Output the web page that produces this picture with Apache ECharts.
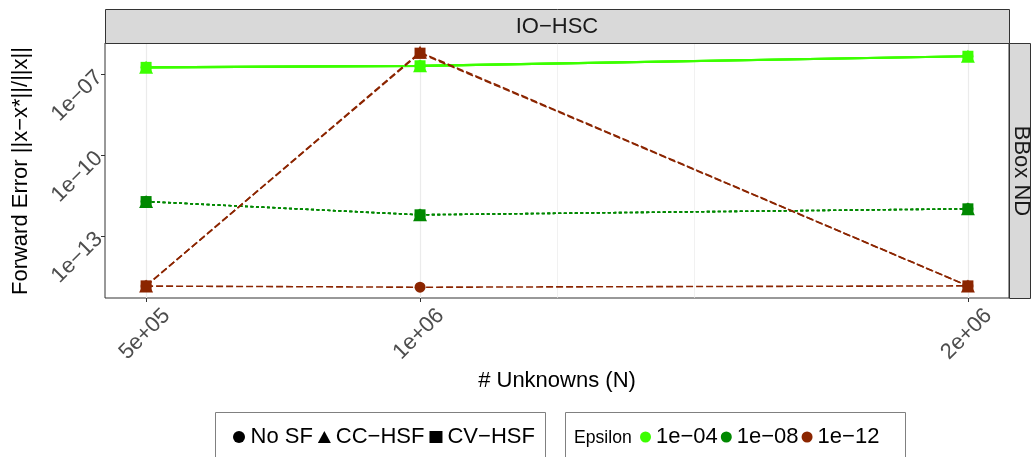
<!DOCTYPE html>
<html>
<head>
<meta charset="utf-8">
<script src="https://cdn.jsdelivr.net/npm/echarts@6/dist/echarts.min.js"></script>
<style>
  html, body { margin: 0; padding: 0; background: #ffffff; }
  #chart { width: 1035px; height: 457px; }
</style>
</head>
<body>
<div id="chart"></div>
<script>
// Problem sizes (# unknowns)
const unknowns = [500000, 1000000, 2000000];
const methods = ['No SF', 'CC−HSF', 'CV−HSF'];
const epsilons = ['1e−04', '1e−08', '1e−12'];

// Forward error ||x - x*|| / ||x|| for each epsilon and method
const err04NoSF = [1.78e-7, 2.04e-7, 4.6e-7];
const err04CC   = [1.78e-7, 2.04e-7, 4.6e-7];
const err04CV   = [1.78e-7, 2.04e-7, 4.6e-7];
const err08NoSF = [1.86e-12, 6.0e-13, 1.0e-12];
const err08CC   = [1.86e-12, 6.0e-13, 1.0e-12];
const err08CV   = [1.86e-12, 6.0e-13, 1.0e-12];
const err12NoSF = [1.36e-15, 1.23e-15, 1.38e-15];
const err12CC   = [1.38e-15, 6.5e-7, 1.38e-15];
const err12CV   = [1.38e-15, 6.0e-7, 1.38e-15];

// Axis breaks and their labels
const xTicks = [500000, 1000000, 2000000];
const xTickLabels = ['5e+05', '1e+06', '2e+06'];
const xMinorGrid = [1250000, 1500000];
const yTicks = [1e-13, 1e-10, 1e-7];
const yTickLabels = ['1e−13', '1e−10', '1e−07'];
const yMinorGrid = [Math.pow(10, -14.5), Math.pow(10, -11.5), Math.pow(10, -8.5)];

const errors = [
  [err04NoSF, err04CC, err04CV],
  [err08NoSF, err08CC, err08CV],
  [err12NoSF, err12CC, err12CV]
];

const FONT = '"Liberation Sans", Arial, Helvetica, sans-serif';
const epsColors = ['#3cff00', '#008800', '#8b2500'];
const epsDash = ['solid', [3, 2.5], [7, 3]];
const epsWidth = [2.2, 1.6, 1.6];
const methodSymbols = ['circle', 'triangle', 'rect'];
const methodSizes = [11, [14, 13], 11];

function labelFor(ticks, labels, v) {
  let best = 0, bestD = Infinity;
  for (let i = 0; i < ticks.length; i++) {
    const d = Math.abs(Math.log10(ticks[i]) - (v > 0 ? Math.log10(v) : v));
    if (d < bestD) { bestD = d; best = i; }
  }
  return labels[best];
}

const series = [];

// background grid lines
series.push({
  type: 'line', name: 'grid', data: [], z: 1, silent: true,
  markLine: {
    z: 1, silent: true, symbol: ['none', 'none'], label: { show: false }, animation: false,
    emphasis: { disabled: true },
    data: [
      ...yTicks.map(v => ({ yAxis: v, lineStyle: { color: '#ebebeb', width: 1.2, type: 'solid' } })),
      ...yMinorGrid.map(v => ({ yAxis: v, lineStyle: { color: '#ebebeb', width: 0.7, type: 'solid' } })),
      ...xTicks.map(v => ({ xAxis: v, lineStyle: { color: '#ebebeb', width: 1.2, type: 'solid' } })),
      ...xMinorGrid.map(v => ({ xAxis: v, lineStyle: { color: '#ebebeb', width: 0.7, type: 'solid' } }))
    ]
  }
});

// connecting lines (drawn under all points)
epsilons.forEach((eps, e) => {
  methods.forEach((m, k) => {
    series.push({
      type: 'line', name: eps + ' ' + m + ' line', z: 2, silent: true,
      showSymbol: false, symbol: 'none',
      data: unknowns.map((x, i) => [x, errors[e][k][i]]),
      lineStyle: { color: epsColors[e], width: epsWidth[e], type: epsDash[e] }
    });
  });
});

// points
epsilons.forEach((eps, e) => {
  methods.forEach((m, k) => {
    series.push({
      type: 'scatter', name: eps + ' ' + m, z: 3, silent: true,
      symbol: methodSymbols[k], symbolSize: methodSizes[k],
      data: unknowns.map((x, i) => [x, errors[e][k][i]]),
      itemStyle: { color: epsColors[e], opacity: 1 }
    });
  });
});

// legend entries
methods.forEach((m) => {
  series.push({ type: 'scatter', name: m, data: [], itemStyle: { color: '#000000', opacity: 1 } });
});
epsilons.forEach((eps, e) => {
  series.push({ type: 'scatter', name: eps, data: [], itemStyle: { color: epsColors[e], opacity: 1 } });
});

const option = {
  animation: false,
  backgroundColor: '#ffffff',
  textStyle: { fontFamily: FONT },
  grid: {
    left: 105, top: 43, width: 904, height: 255,
    show: true, borderColor: '#333333', borderWidth: 1, backgroundColor: '#ffffff',
    containLabel: false
  },
  xAxis: {
    type: 'value', min: 425000, max: 2075000,
    axisLine: { show: false },
    axisTick: { show: true, length: 4, lineStyle: { color: '#333333', width: 1 }, customValues: xTicks },
    axisLabel: {
      show: true, rotate: 45, fontSize: 22, color: '#4d4d4d', margin: 5, fontFamily: FONT,
      verticalAlign: 'top', padding: [10, -8, 0, 0],
      customValues: xTicks,
      formatter: v => labelFor(xTicks, xTickLabels, v)
    },
    splitLine: { show: false }
  },
  yAxis: {
    type: 'log', logBase: 10,
    min: Math.pow(10, -15.31), max: Math.pow(10, -5.845),
    axisLine: { show: false },
    axisTick: { show: true, length: 4, lineStyle: { color: '#333333', width: 1 }, customValues: yTicks },
    axisLabel: {
      show: true, rotate: 45, fontSize: 22, color: '#4d4d4d', margin: 6, fontFamily: FONT,
      customValues: yTicks,
      formatter: v => labelFor(yTicks, yTickLabels, v)
    },
    splitLine: { show: false },
    minorTick: { show: false },
    minorSplitLine: { show: false }
  },
  legend: [
    {
      left: 233, top: 426, padding: 0, itemGap: 5, itemWidth: 13, itemHeight: 12,
      selectedMode: false,
      textStyle: { fontSize: 22, color: '#000000', fontFamily: FONT },
      data: [
        { name: methods[0], icon: 'circle' },
        { name: methods[1], icon: 'triangle' },
        { name: methods[2], icon: 'rect' }
      ]
    },
    {
      left: 640, top: 426, padding: 0, itemGap: 3, itemWidth: 11, itemHeight: 11,
      selectedMode: false,
      textStyle: { fontSize: 22, color: '#000000', fontFamily: FONT },
      data: epsilons.map(n => ({ name: n, icon: 'circle' }))
    }
  ],
  graphic: [
    // facet strip (top)
    { type: 'rect', shape: { x: 105.5, y: 9.5, width: 904, height: 34 }, style: { fill: '#d9d9d9', stroke: '#333333', lineWidth: 1 }, z: 10 },
    { type: 'text', x: 557, y: 27, z: 11, style: { text: 'IO−HSC', fontSize: 22, fontFamily: FONT, fill: '#1a1a1a', align: 'center', verticalAlign: 'middle' } },
    // facet strip (right)
    { type: 'rect', shape: { x: 1009.5, y: 43.5, width: 21, height: 255 }, style: { fill: '#d9d9d9', stroke: '#333333', lineWidth: 1 }, z: 10 },
    { type: 'text', x: 1021, y: 171, rotation: -Math.PI / 2, z: 11, style: { text: 'BBox ND', fontSize: 22, fontFamily: FONT, fill: '#1a1a1a', align: 'center', verticalAlign: 'middle' } },
    // axis titles
    { type: 'text', x: 21, y: 171, rotation: Math.PI / 2, z: 11, style: { text: 'Forward Error ||x−x*||/||x||', fontSize: 22, fontFamily: FONT, fill: '#000000', align: 'center', verticalAlign: 'middle' } },
    { type: 'text', x: 557, y: 381, z: 11, style: { text: '# Unknowns (N)', fontSize: 22, fontFamily: FONT, fill: '#000000', align: 'center', verticalAlign: 'middle' } },
    // legend frames
    { type: 'rect', shape: { x: 215.5, y: 412.5, width: 330, height: 60 }, style: { fill: 'none', stroke: '#808080', lineWidth: 1 }, z: 10 },
    { type: 'rect', shape: { x: 565.5, y: 412.5, width: 340, height: 60 }, style: { fill: 'none', stroke: '#808080', lineWidth: 1 }, z: 10 },
    { type: 'text', x: 574, y: 438, z: 11, style: { text: 'Epsilon', fontSize: 17.6, fontFamily: FONT, fill: '#000000', align: 'left', verticalAlign: 'middle' } }
  ],
  series: series
};

const chart = echarts.init(document.getElementById('chart'), null, { renderer: 'canvas' });
chart.setOption(option);
</script>
</body>
</html>
